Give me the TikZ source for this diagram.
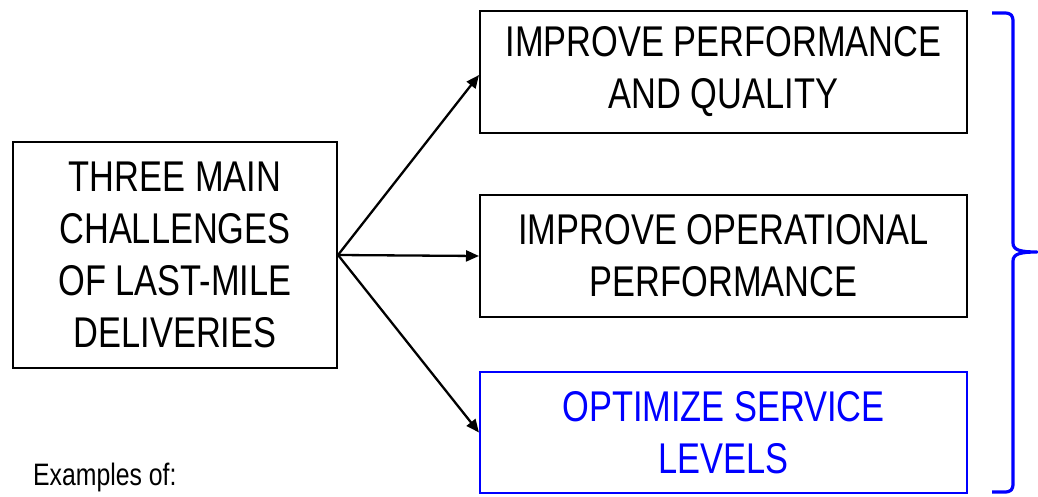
\documentclass[tikz,border=0pt]{standalone}
\usepackage{fontspec}
\setmainfont{Liberation Sans}[FakeStretch=0.80]
\usetikzlibrary{arrows.meta,calc}
\definecolor{pureblue}{RGB}{0,0,255}
\tikzset{
  box/.style={draw=black, line width=2pt, align=center, inner sep=0pt,
    font=\fontsize{43}{52}\selectfont},
  goalbox/.style={box, minimum width=487pt, minimum height=122pt},
  link/.style={line width=2.3pt, -{Triangle[length=13pt,width=11pt]}},
  bracket/.style={draw=pureblue, line width=3.2pt, line join=round}
}
\begin{document}
\begin{tikzpicture}[x=1pt, y=-1pt]
\useasboundingbox (0,0) rectangle (1038,497);

% challenge box
\node[box, minimum width=324pt, minimum height=226pt] (src) at (175,255)
  {THREE MAIN\\CHALLENGES\\OF LAST-MILE\\DELIVERIES};

% goal boxes
\node[goalbox] (g1) at (723.5,72) {IMPROVE PERFORMANCE\\AND QUALITY};
\node[goalbox] (g2) at (723.5,256) {IMPROVE OPERATIONAL\\PERFORMANCE};
\node[goalbox, draw=pureblue, text=pureblue, minimum height=121pt] (g3) at (723.5,432.5)
  {OPTIMIZE SERVICE\\LEVELS};

% connectors
\draw[link] (src.east) -- ($(g1.west)+(0,3)$);
\draw[link] (src.east) -- (g2.west);
\draw[link] (src.east) -- (g3.west);

% caption
\node[anchor=base west, inner sep=0pt, font=\fontsize{31}{36}\selectfont] (cap) at (33,485) {Examples of:};

% curly bracket on the right
\coordinate (btop) at (992,13);
\coordinate (bbot) at (992,492);
\coordinate (btip) at (1037,252);
\draw[bracket] (btop) -- (1004,13) .. controls (1011,13) and (1013,15) .. (1013,22)
  -- (1013,243) .. controls (1013,250) and (1020,252) .. (btip)
  .. controls (1020,252) and (1013,254) .. (1013,261)
  -- (1013,483) .. controls (1013,490) and (1011,492) .. (1004,492) -- (bbot);
\end{tikzpicture}
\end{document}
